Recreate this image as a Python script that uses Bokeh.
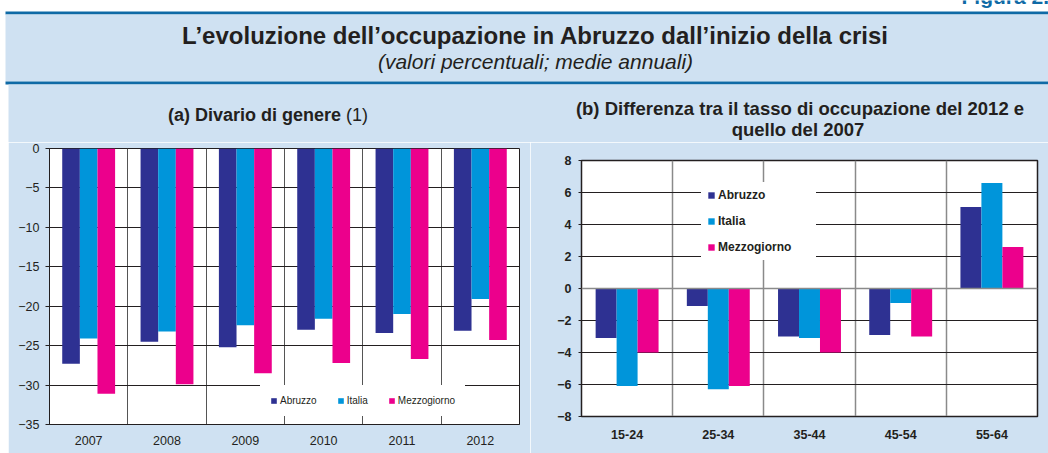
from bokeh.plotting import figure
from bokeh.models import (Range1d, ColumnDataSource, Legend, LegendItem, FixedTicker,
                          SingleIntervalTicker, Span, Spacer)
from bokeh.transform import dodge
from bokeh.layouts import column, row
from bokeh.core.properties import value
from bokeh.embed import file_html
from bokeh.resources import INLINE

# ---------------- data ----------------
years = ["2007", "2008", "2009", "2010", "2011", "2012"]
gap_abruzzo = [-27.3, -24.5, -25.2, -23.0, -23.4, -23.1]
gap_italia = [-24.1, -23.2, -22.4, -21.6, -21.0, -19.1]
gap_mezzogiorno = [-31.1, -29.9, -28.5, -27.2, -26.7, -24.3]

ages = ["15-24", "25-34", "35-44", "45-54", "55-64"]
diff_abruzzo = [-3.1, -1.1, -3.0, -2.9, 5.1]
diff_italia = [-6.1, -6.3, -3.1, -0.9, 6.6]
diff_mezzogiorno = [-4.0, -6.1, -4.0, -3.0, 2.6]

series_names = ["Abruzzo", "Italia", "Mezzogiorno"]

# ---------------- style ----------------
NAVY, CYAN, MAGENTA = "#2e3192", "#0095da", "#ec008c"
PANEL = "#cfe1f2"
BLUE_LINE = "#0f6aa6"
TXT = "#231f20"
FONT = "Liberation Sans"
DY = -8  # baseline correction for text glyphs


def no_align(p):
    try:
        p.frame_align = False
    except Exception:
        pass


# ---------------- header (main title + panel titles) ----------------
HW, HH = 1048, 142
header = figure(width=HW, height=HH, x_range=Range1d(0, HW), y_range=Range1d(HH, 0),
                output_backend="svg", toolbar_location=None, title=None, min_border=0,
                x_axis_location=None, y_axis_location=None)
no_align(header)
header.border_fill_color = "white"
header.background_fill_color = "white"
header.outline_line_color = None
header.grid.visible = False

header.quad(left=[5, 5, 5, 8], right=[HW, HW, HW, HW], top=[11, 14, 81, 84],
            bottom=[14, 81, 84, HH], color=[BLUE_LINE, PANEL, BLUE_LINE, PANEL],
            line_color=None)
header.text(x=[961], y=[3.5 + DY], text=["Figura 2."], text_font=value(FONT),
            text_font_style="bold", text_font_size="21px", text_align="left",
            text_baseline="alphabetic", text_color=BLUE_LINE)
header.text(x=[535], y=[43.3 + DY],
            text=["L\u2019evoluzione dell\u2019occupazione in Abruzzo dall\u2019inizio della crisi"],
            text_font=value(FONT), text_font_style="bold", text_font_size="24px",
            text_align="center", text_baseline="alphabetic", text_color=TXT)
header.text(x=[535], y=[68.5 + DY], text=["(valori percentuali; medie annuali)"],
            text_font=value(FONT), text_font_style="italic", text_font_size="21px",
            text_align="center", text_baseline="alphabetic", text_color=TXT)
# panel (a) title
header.text(x=[340.6], y=[122.3 + DY], text=["(a) Divario di genere"], text_font=value(FONT),
            text_font_style="bold", text_font_size="18px", text_align="right",
            text_baseline="alphabetic", text_color=TXT)
header.text(x=[345.6], y=[122.3 + DY], text=["(1)"], text_font=value(FONT),
            text_font_style="normal", text_font_size="18px", text_align="left",
            text_baseline="alphabetic", text_color=TXT)
# panel (b) title
header.text(x=[799.5, 797.5], y=[116 + DY, 136.7 + DY],
            text=["(b) Differenza tra il tasso di occupazione del 2012 e", "quello del 2007"],
            text_font=value(FONT), text_font_style="bold", text_font_size="18.5px",
            text_align="center", text_baseline="alphabetic", text_color=TXT)


# ---------------- bar charts ----------------
def bar_chart(w, h, cats, vals, yr, interval, borders, bw, st, legend_cfg):
    n = len(cats)
    src = ColumnDataSource(dict(idx=list(range(n)), a=vals[0], b=vals[1], c=vals[2]))
    p = figure(width=w, height=h, x_range=Range1d(-0.5, n - 0.5), y_range=Range1d(*yr),
               output_backend="svg", toolbar_location=None, title=None)
    no_align(p)
    p.min_border_left, p.min_border_top, p.min_border_right, p.min_border_bottom = borders
    p.border_fill_color = PANEL
    p.background_fill_color = "white"
    p.outline_line_color = TXT
    p.outline_line_width = st["outline_w"]

    rends = []
    for field, off, col in zip(["a", "b", "c"], [-bw, 0, bw], [NAVY, CYAN, MAGENTA]):
        r = p.vbar(x=dodge("idx", off), top=field, bottom=0, width=bw, source=src,
                   fill_color=col, line_color=None)
        rends.append(r)

    # axes
    p.xaxis.ticker = FixedTicker(ticks=list(range(n)))
    p.xaxis.major_label_overrides = {i: c for i, c in enumerate(cats)}
    p.xaxis.major_tick_out = 0
    p.xaxis.major_tick_in = 0
    p.xaxis.minor_tick_out = 0
    p.xaxis.axis_line_color = TXT
    p.xaxis.major_label_standoff = st["x_standoff"]
    p.yaxis.ticker = SingleIntervalTicker(interval=interval)
    p.yaxis.major_tick_out = st["tick_out"]
    p.yaxis.major_tick_in = 0
    p.yaxis.minor_tick_out = 0
    p.yaxis.minor_tick_in = 0
    p.yaxis.major_tick_line_color = TXT
    p.yaxis.axis_line_color = TXT
    p.yaxis.major_label_standoff = st["y_standoff"]
    for ax in (p.xaxis[0], p.yaxis[0]):
        ax.major_label_text_font = FONT
        ax.major_label_text_font_size = st["size"]
        ax.major_label_text_font_style = st["style"]
        ax.major_label_text_color = TXT

    # grids
    p.ygrid.ticker = SingleIntervalTicker(interval=interval)
    p.ygrid.grid_line_color = TXT
    p.ygrid.grid_line_width = 1
    p.xgrid.ticker = FixedTicker(ticks=[i + 0.5 for i in range(n - 1)])
    p.xgrid.grid_line_color = st["vcolor"]
    p.xgrid.grid_line_width = st["vwidth"]

    items = [LegendItem(label=nm, renderers=[r]) for nm, r in zip(series_names, rends)]
    leg = Legend(items=items, **legend_cfg)
    leg.label_text_font = FONT
    leg.label_text_color = TXT
    leg.background_fill_color = "white"
    leg.background_fill_alpha = 1
    leg.border_line_alpha = 0
    p.add_layout(leg)
    return p


CH = 311
LW, RW = 522, 518
left = bar_chart(
    LW, CH, years, [gap_abruzzo, gap_italia, gap_mezzogiorno], (-35, 0), 5,
    (41, 6, 11, 29), 0.225,
    dict(size="12.5px", style="normal", tick_out=4, y_standoff=6, x_standoff=11,
         vcolor="#555555", vwidth=1, outline_w=1),
    dict(location=(211, 8), orientation="horizontal", padding=10, spacing=20,
         glyph_width=7, glyph_height=7, label_standoff=3, label_height=7,
         label_text_font_size="10px", margin=0),
)

right = bar_chart(
    RW, CH, ages, [diff_abruzzo, diff_italia, diff_mezzogiorno], (-8, 8), 2,
    (51, 18, 11, 37), 0.23,
    dict(size="12.5px", style="bold", tick_out=3, y_standoff=7, x_standoff=13,
         vcolor="#8a8a8a", vwidth=1.5, outline_w=1.5),
    dict(location=(120, 156), orientation="vertical", padding=6, spacing=12,
         glyph_width=8, glyph_height=8, label_standoff=3, label_height=8,
         label_width=92, label_text_font_size="12px", label_text_font_style="bold",
         margin=0),
)
right.add_layout(Span(location=0, dimension="width", line_color="#8a8a8a", line_width=1.5))

layout = column(header, row(Spacer(width=8, height=CH), left, right))
open("out.html", "w").write(file_html(layout, INLINE))
